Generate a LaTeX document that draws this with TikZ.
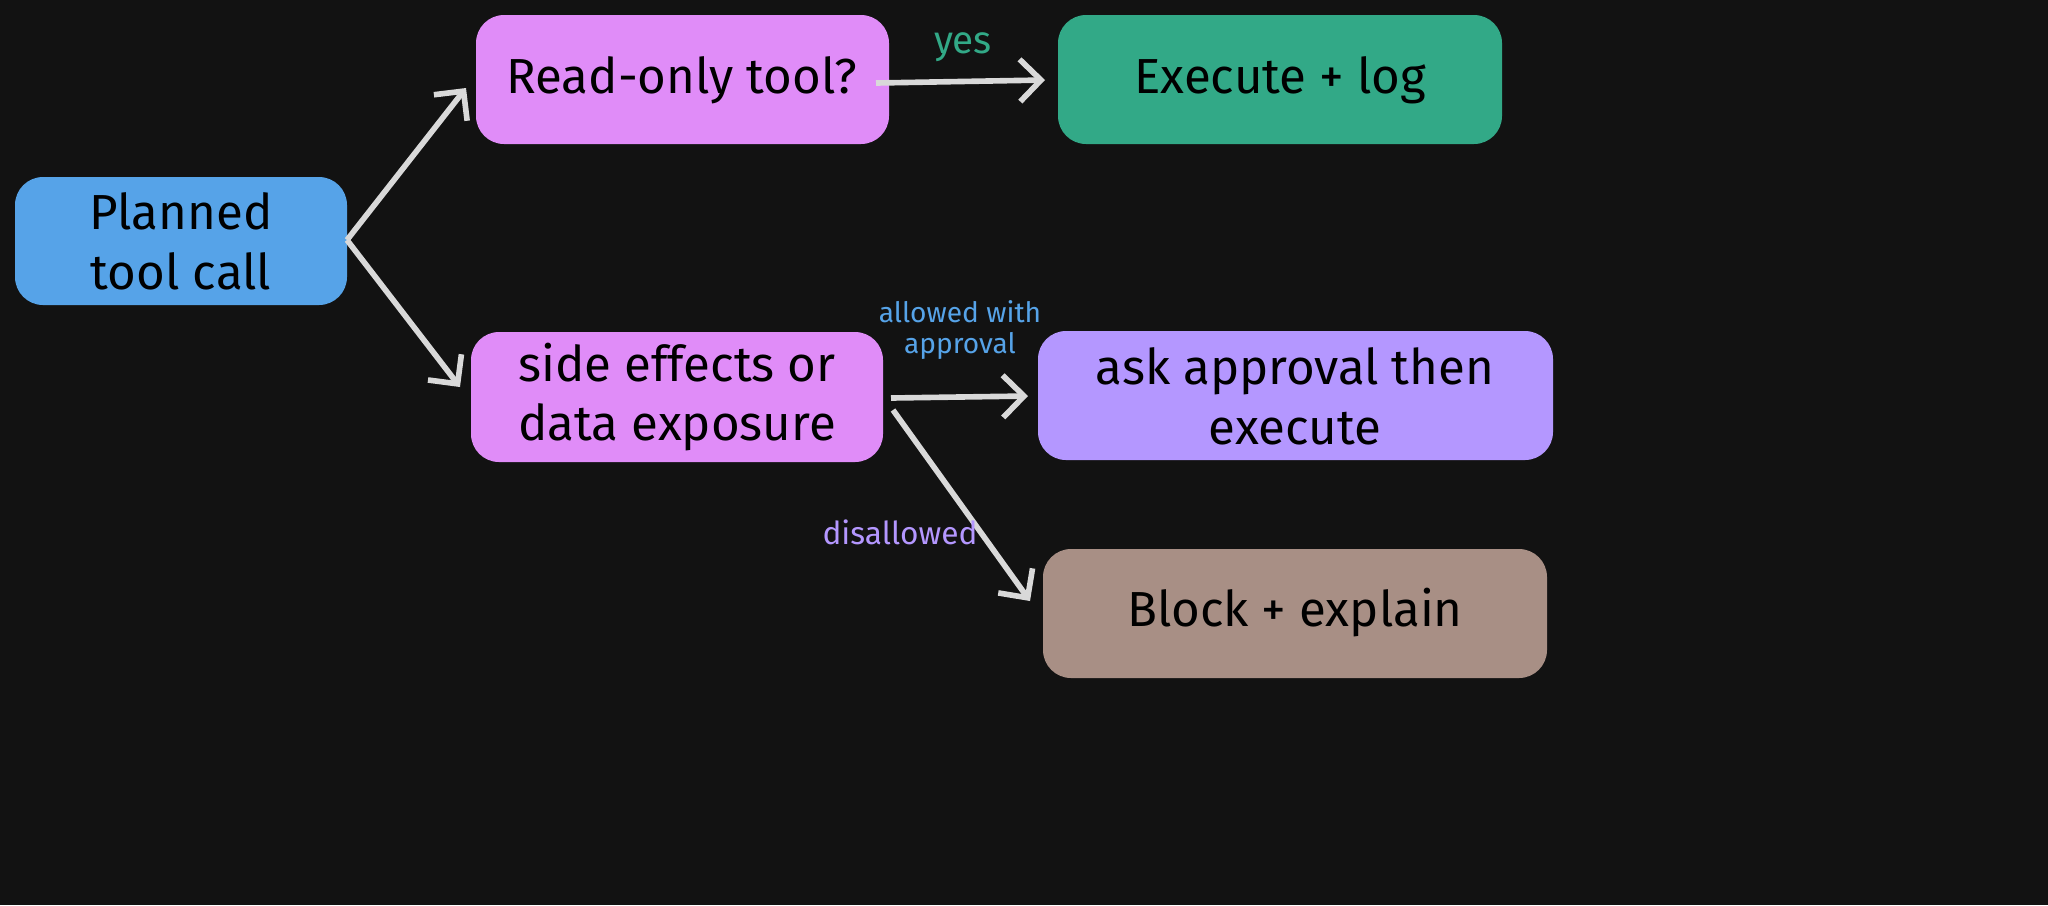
\documentclass[tikz,border=0pt]{standalone}
\usepackage{fontspec}
\setmainfont{Fira Sans}
\usetikzlibrary{arrows.meta}
\begin{document}
\begin{tikzpicture}[x=0.01cm,y=-0.01cm,
box/.style={align=center,text=black,font=\fontsize{14}{17}\selectfont},
arr/.style={draw={rgb,255:red,217;green,217;blue,217},line width=1.6pt,-{Straight Barb[length=6pt,width=12pt]}},
lab/.style={font=\fontsize{8}{9}\selectfont,align=center}]
\fill[fill={rgb,255:red,18;green,18;blue,18}] (0,0) rectangle (2048,905);
\definecolor{cblue}{RGB}{86,163,232}
\definecolor{cpink}{RGB}{224,140,248}
\definecolor{cgreen}{RGB}{50,169,135}
\definecolor{cpurp}{RGB}{180,151,255}
\definecolor{cbrown}{RGB}{168,143,133}
\fill[cblue,rounded corners=0.28cm] (15,177) rectangle (347,305);
\node[box] (p) at (181,241) {Planned\\tool call};
\fill[cpink,rounded corners=0.28cm] (476,15) rectangle (889,144);
\node[box] (r) at (682,80) {Read-only tool?};
\fill[cgreen,rounded corners=0.28cm] (1058,15) rectangle (1502,144);
\node[box] (e) at (1280,80) {Execute + log};
\fill[cpink,rounded corners=0.28cm] (471,332) rectangle (883,462);
\node[box] (s) at (677,397) {side effects or\\data exposure};
\fill[cpurp,rounded corners=0.28cm] (1038,331) rectangle (1553,460);
\node[box] (a) at (1295,396) {ask approval then\\execute};
\fill[cbrown,rounded corners=0.28cm] (1043,549) rectangle (1547,678);
\node[box] (b) at (1295,613) {Block + explain};
\coordinate (p1) at (347,240);
\coordinate (r1) at (466,88);
\coordinate (s1) at (460,387);
\draw[arr] (p1) -- (r1);
\draw[arr] (p1) -- (s1);
\coordinate (r2) at (876,83); \coordinate (e1) at (1045,80);
\draw[arr] (r2) -- (e1);
\node[lab,text=cgreen,font=\fontsize{11}{12}\selectfont] at (963,47) {yes};
\coordinate (s2) at (891,398); \coordinate (a1) at (1028,396);
\draw[arr] (s2) -- (a1);
\node[lab,text=cblue] at (960,330) {allowed with\\approval};
\coordinate (s3) at (893,410); \coordinate (b1) at (1030,601);
\draw[arr] (s3) -- (b1);
\node[lab,text=cpurp,font=\fontsize{9}{10}\selectfont] at (900,532) {disallowed};
\end{tikzpicture}
\end{document}
